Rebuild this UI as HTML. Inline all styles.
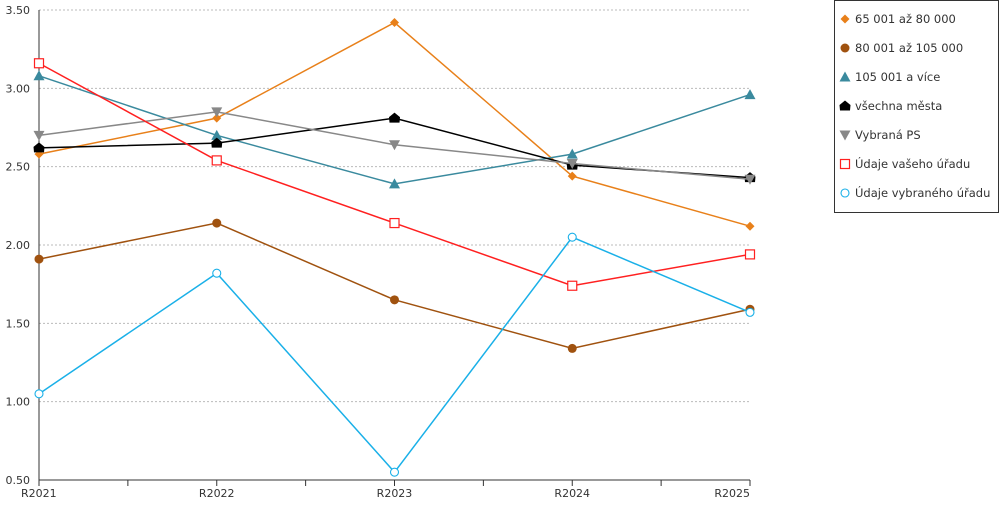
<!DOCTYPE html>
<html><head><meta charset="utf-8"><style>
body{margin:0;background:#fff;font-family:"Liberation Sans","DejaVu Sans",sans-serif;}
svg text{font-family:"DejaVu Sans","Liberation Sans",sans-serif;font-size:11px;fill:#333;}
svg text.leg{font-size:11.5px;}
</style></head><body>
<svg id="chart" width="1000" height="500"></svg>
<script>
const categories=["R2021","R2022","R2023","R2024","R2025"];
const yTicks=[0.5,1.0,1.5,2.0,2.5,3.0,3.5];
const seriesNames=["65 001 až 80 000","80 001 až 105 000","105 001 a více","všechna města","Vybraná PS","Údaje vašeho úřadu","Údaje vybraného úřadu"];
const s1=[2.58,2.81,3.42,2.44,2.12];
const s2=[1.91,2.14,1.65,1.34,1.59];
const s3=[3.08,2.70,2.39,2.58,2.96];
const s4=[2.62,2.65,2.81,2.51,2.43];
const s5=[2.70,2.85,2.64,2.52,2.42];
const s6=[3.16,2.54,2.14,1.74,1.94];
const s7=[1.05,1.82,0.55,2.05,1.57];
const colors=["#e8801a","#a0520f","#3a8a9e","#000000","#888888","#ff2020","#1ab0e8"];
const markers=["diamond","circle","tri","pent","tridown","sqo","circo"];
const ns="http://www.w3.org/2000/svg";
const svg=document.getElementById('chart');
const X0=39,X1=750,Y0=480,Y1=10,ymin=0.5,ymax=3.5;
const xs=i=>X0+i*(X1-X0)/(categories.length-1);
const ys=v=>Y0-(v-ymin)/(ymax-ymin)*(Y0-Y1);
function mk(t,a){const e=document.createElementNS(ns,t);for(const k in a)e.setAttribute(k,a[k]);svg.appendChild(e);return e;}
yTicks.forEach(v=>{
 const g=mk('line',{x1:X0,x2:X1,y1:ys(v),y2:ys(v),stroke:'#bbb','stroke-dasharray':'2,2'});
 
 
 const t=mk('text',{x:X0-9,y:ys(v)+4,'text-anchor':'end'});t.textContent=v.toFixed(2);
 
 
});
const ax=mk('line',{x1:X0,x2:X0,y1:Y1,y2:Y0,stroke:'#333'});


const bx=mk('line',{x1:X0,x2:X1,y1:Y0,y2:Y0,stroke:'#333'});


categories.forEach((c,i)=>{
 mk('line',{x1:xs(i),x2:xs(i),y1:Y0,y2:Y0+6,stroke:'#333'});
 if(i<categories.length-1){const m=(xs(i)+xs(i+1))/2;mk('line',{x1:m,x2:m,y1:Y0,y2:Y0+6,stroke:'#333'});}
 const t=mk('text',{x:xs(i),y:Y0+17,'text-anchor':i==0?'start':(i==categories.length-1?'end':'middle')});
 if(i==0)t.setAttribute('x',xs(i)-18);
 t.textContent=c;
 
 
});
function marker(type,x,y,col){
 let e;
 if(type=='diamond')e=mk('polygon',{points:`${x},${y-4.5} ${x+4.5},${y} ${x},${y+4.5} ${x-4.5},${y}`,fill:col});
 else if(type=='circle')e=mk('circle',{cx:x,cy:y,r:4.5,fill:col});
 else if(type=='tri')e=mk('polygon',{points:`${x},${y-5.5} ${x+5.5},${y+4.5} ${x-5.5},${y+4.5}`,fill:col});
 else if(type=='tridown')e=mk('polygon',{points:`${x-5.5},${y-4.5} ${x+5.5},${y-4.5} ${x},${y+5.5}`,fill:col});
 else if(type=='pent')e=mk('polygon',{points:`${x},${y-5.5} ${x+5.5},${y-1} ${x+5},${y+4.5} ${x-5},${y+4.5} ${x-5.5},${y-1}`,fill:col});
 else if(type=='sqo')e=mk('rect',{x:x-4.5,y:y-4.5,width:9,height:9,fill:'#fff',stroke:col,'stroke-width':1.2});
 else e=mk('circle',{cx:x,cy:y,r:4,fill:'#fff',stroke:col,'stroke-width':1.1});
 return e;
}
const all=[s1,s2,s3,s4,s5,s6,s7];
all.forEach((s,k)=>{
 const p=mk('polyline',{points:s.map((v,i)=>xs(i)+','+ys(v)).join(' '),fill:'none',stroke:colors[k],'stroke-width':1.5});
 
 
 s.forEach((v,i)=>{const m=marker(markers[k],xs(i),ys(v),colors[k]);
  
  });
});
const lg=mk('rect',{x:834.5,y:0.5,width:164,height:212,fill:'#fff',stroke:'#333'});


seriesNames.forEach((n,k)=>{
 const y=19+k*29;
 marker(markers[k],845,y,colors[k]);
 const t=mk('text',{x:855,y:y+4,'class':'leg'});t.textContent=n;
 
 
});
</script>
</body></html>
